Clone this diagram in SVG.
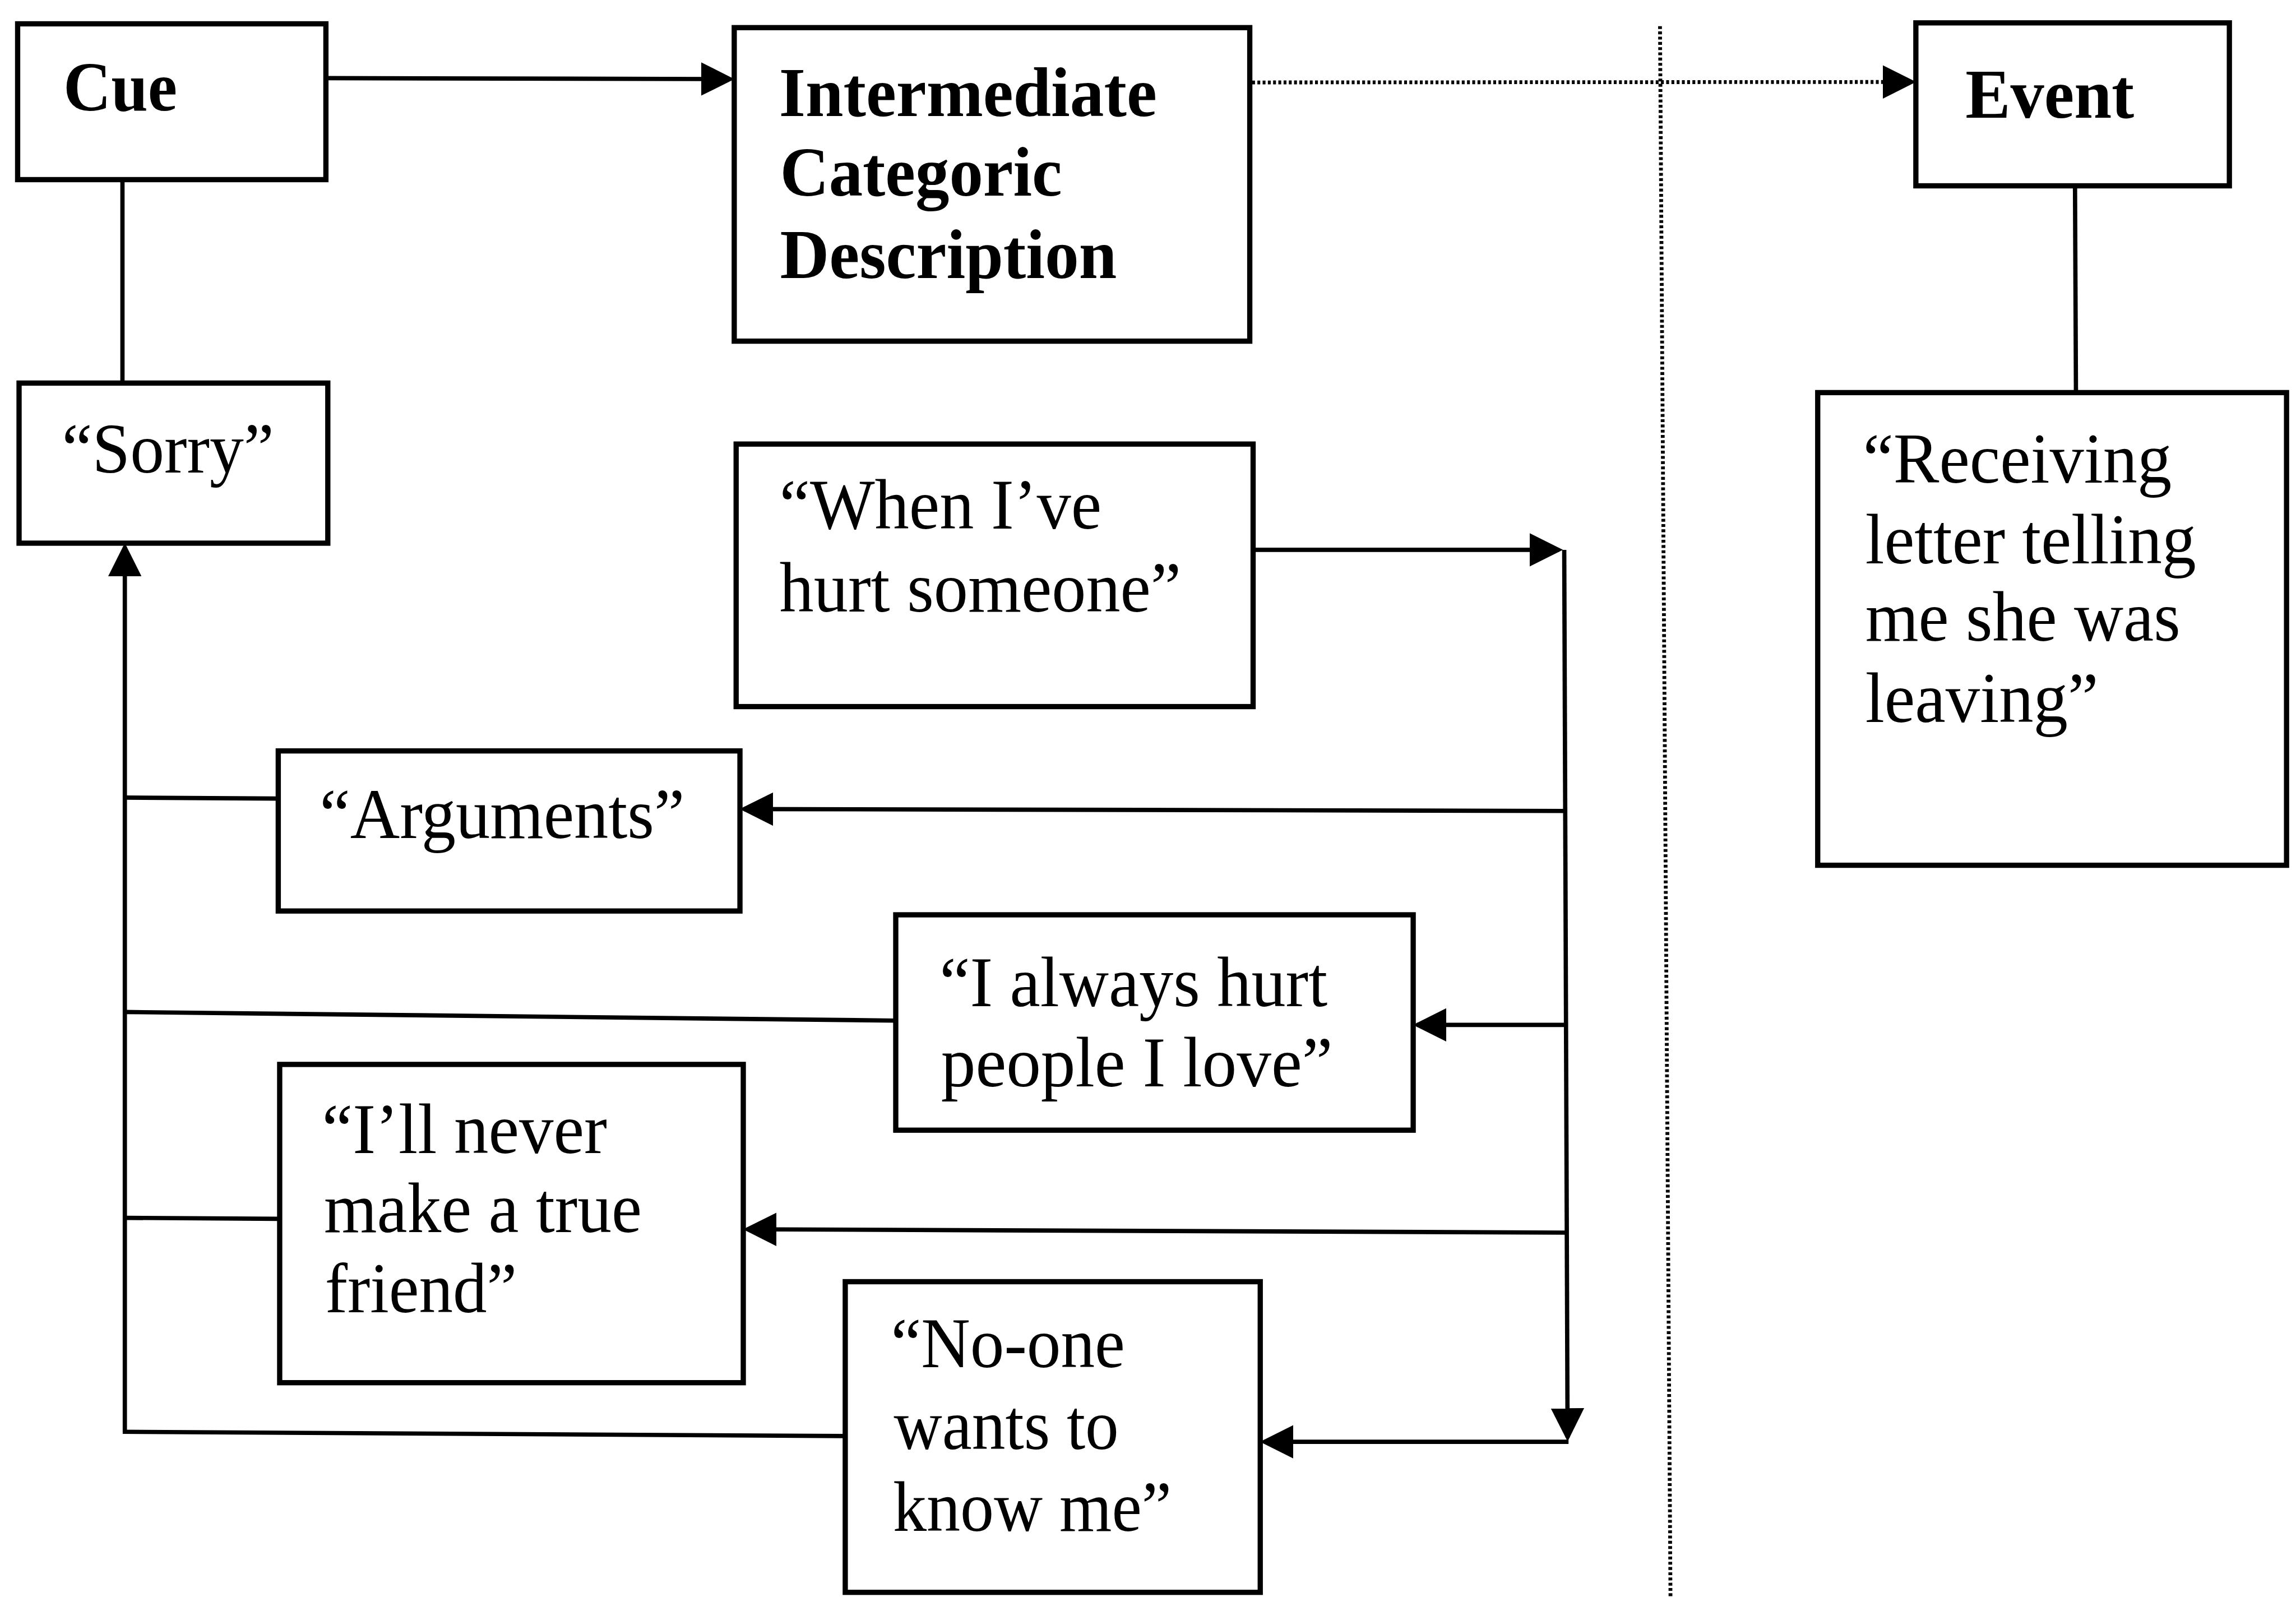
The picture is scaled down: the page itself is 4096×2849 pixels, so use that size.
<svg xmlns="http://www.w3.org/2000/svg" width="4096" height="2849" viewBox="0 0 4096 2849">
  <defs>
    <style>
      .box { fill: #ffffff; stroke: #000000; stroke-width: 11; }
      .ln { fill: none; stroke: #000000; stroke-width: 9; }
      .dot { fill: none; stroke: #000000; stroke-width: 8; stroke-dasharray: 6 5; }
      .hd { font-family: "Liberation Serif", "Times New Roman", serif; font-weight: bold; font-size: 148px; fill: #000000; }
      .tx { font-family: "Liberation Serif", "Times New Roman", serif; font-size: 150px; fill: #000000; }
    </style>
    <marker id="arrow" markerUnits="userSpaceOnUse" markerWidth="70" markerHeight="70" viewBox="0 0 66 66" refX="58" refY="33" orient="auto">
      <path d="M0,0 L66,33 L0,66 z" fill="#000000"/>
    </marker>
  </defs>
  <rect x="0" y="0" width="4096" height="2849" fill="#ffffff"/>
  <g transform="scale(0.85)">
    <g id="connectors">
      <!-- top row -->
      <line class="ln" x1="684" y1="164" x2="1533" y2="166" marker-end="url(#arrow)"/>
      <line class="dot" x1="2628" y1="173" x2="4013" y2="172" marker-end="url(#arrow)"/>
      <line class="ln" x1="257" y1="377" x2="257" y2="804"/>
      <line class="ln" x1="4355" y1="390" x2="4357" y2="824"/>
      <!-- divider -->
      <line class="dot" x1="3484" y1="55" x2="3506" y2="3351"/>
      <!-- right-hand trunk -->
      <line class="ln" x1="2630" y1="1154" x2="3272" y2="1154" marker-end="url(#arrow)"/>
      <line class="ln" x1="3283" y1="1154" x2="3290" y2="3017" marker-end="url(#arrow)"/>
      <line class="ln" x1="3292" y1="3026" x2="2653" y2="3026" marker-end="url(#arrow)"/>
      <line class="ln" x1="3285" y1="1702" x2="1561" y2="1698" marker-end="url(#arrow)"/>
      <line class="ln" x1="3287" y1="2151" x2="2974" y2="2151" marker-end="url(#arrow)"/>
      <line class="ln" x1="3289" y1="2587" x2="1568" y2="2580" marker-end="url(#arrow)"/>
      <!-- left-hand trunk -->
      <line class="ln" x1="262" y1="3009" x2="262" y2="1148" marker-end="url(#arrow)"/>
      <line class="ln" x1="262" y1="1674" x2="584" y2="1676"/>
      <line class="ln" x1="262" y1="2124" x2="1880" y2="2142"/>
      <line class="ln" x1="262" y1="2556" x2="587" y2="2558"/>
      <line class="ln" x1="258" y1="3005" x2="1774" y2="3014"/>
    </g>

    <g id="cue">
      <rect class="box" x="37" y="50" width="647" height="327"/>
      <text class="hd" x="133" y="232" textLength="239" lengthAdjust="spacingAndGlyphs">Cue</text>
    </g>

    <g id="intermediate">
      <rect class="box" x="1541" y="58" width="1082" height="658"/>
      <text class="hd" x="1635" y="244" textLength="793" lengthAdjust="spacingAndGlyphs">Intermediate</text>
      <text class="hd" x="1637" y="411" textLength="592" lengthAdjust="spacingAndGlyphs">Categoric</text>
      <text class="hd" x="1637" y="584" textLength="707" lengthAdjust="spacingAndGlyphs">Description</text>
    </g>

    <g id="event">
      <rect class="box" x="4021" y="48" width="658" height="342"/>
      <text class="hd" x="4125" y="247" textLength="354" lengthAdjust="spacingAndGlyphs">Event</text>
    </g>

    <g id="sorry">
      <rect class="box" x="40" y="804" width="648" height="336"/>
      <text class="tx" x="130" y="992" textLength="445" lengthAdjust="spacingAndGlyphs">“Sorry”</text>
    </g>

    <g id="hurt-someone">
      <rect class="box" x="1545" y="932" width="1085" height="551"/>
      <text class="tx" x="1636" y="1110" textLength="676" lengthAdjust="spacingAndGlyphs">“When I’ve</text>
      <text class="tx" x="1636" y="1284" textLength="843" lengthAdjust="spacingAndGlyphs">hurt someone”</text>
    </g>

    <g id="receiving-letter">
      <rect class="box" x="3815" y="824" width="984" height="992"/>
      <text class="tx" x="3910" y="1013" textLength="648" lengthAdjust="spacingAndGlyphs">“Receiving</text>
      <text class="tx" x="3915" y="1182" textLength="694" lengthAdjust="spacingAndGlyphs">letter telling</text>
      <text class="tx" x="3915" y="1345" textLength="661" lengthAdjust="spacingAndGlyphs">me she was</text>
      <text class="tx" x="3915" y="1515" textLength="489" lengthAdjust="spacingAndGlyphs">leaving”</text>
    </g>

    <g id="arguments">
      <rect class="box" x="584" y="1576" width="969" height="336"/>
      <text class="tx" x="671" y="1759" textLength="766" lengthAdjust="spacingAndGlyphs">“Arguments”</text>
    </g>

    <g id="always-hurt">
      <rect class="box" x="1880" y="1920" width="1086" height="452"/>
      <text class="tx" x="1972" y="2112" textLength="814" lengthAdjust="spacingAndGlyphs">“I always hurt</text>
      <text class="tx" x="1975" y="2280" textLength="822" lengthAdjust="spacingAndGlyphs">people I love”</text>
    </g>

    <g id="never-friend">
      <rect class="box" x="587" y="2234" width="973" height="668"/>
      <text class="tx" x="676" y="2420" textLength="598" lengthAdjust="spacingAndGlyphs">“I’ll never</text>
      <text class="tx" x="680" y="2586" textLength="667" lengthAdjust="spacingAndGlyphs">make a true</text>
      <text class="tx" x="682" y="2754" textLength="403" lengthAdjust="spacingAndGlyphs">friend”</text>
    </g>

    <g id="no-one">
      <rect class="box" x="1774" y="2690" width="871" height="652"/>
      <text class="tx" x="1870" y="2870" textLength="491" lengthAdjust="spacingAndGlyphs">“No-one</text>
      <text class="tx" x="1876" y="3041" textLength="472" lengthAdjust="spacingAndGlyphs">wants to</text>
      <text class="tx" x="1874" y="3213" textLength="585" lengthAdjust="spacingAndGlyphs">know me”</text>
    </g>
  </g>
</svg>
